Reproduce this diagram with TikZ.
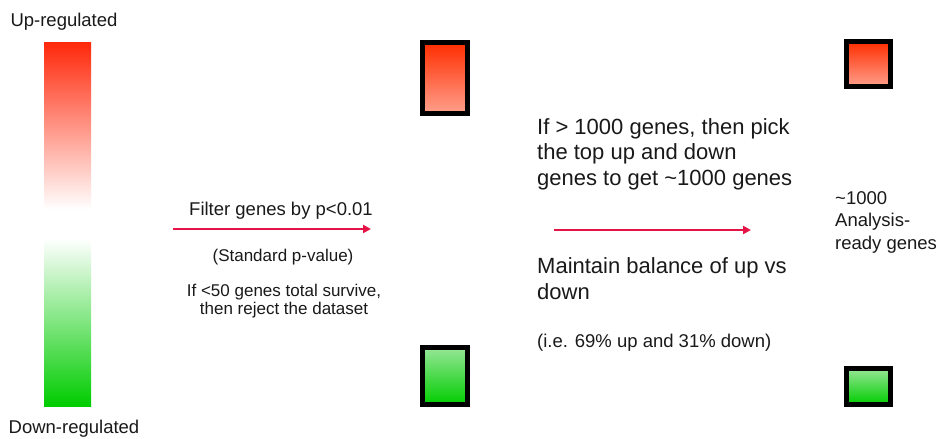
\documentclass[tikz,border=0pt]{standalone}
\usepackage{fontspec}
\setmainfont{Liberation Sans}
\usetikzlibrary{arrows.meta}
\definecolor{upred}{RGB}{255,40,10}
\definecolor{downgreen}{RGB}{0,204,0}
\definecolor{boxredtop}{RGB}{255,45,0}
\definecolor{boxredbot}{RGB}{255,160,140}
\definecolor{boxgreentop}{RGB}{150,230,150}
\definecolor{boxgreenbot}{RGB}{0,205,0}
\definecolor{arrowred}{RGB}{230,20,70}
\pgfdeclareverticalshading{updown}{100bp}{%
  color(0bp)=(downgreen); color(25bp)=(downgreen); color(48bp)=(white);
  color(52bp)=(white); color(75bp)=(upred); color(100bp)=(upred)}
\tikzset{
  redbox/.style={draw=black, line width=5pt, top color=boxredtop, bottom color=boxredbot},
  greenbox/.style={draw=black, line width=5pt, top color=boxgreentop, bottom color=boxgreenbot},
  flowarrow/.style={draw=arrowred, line width=2.2pt, -{Triangle[length=8pt,width=8pt]}},
  lbl/.style={inner sep=0pt, text=black!90},
}
\begin{document}
\begin{tikzpicture}[x=1pt,y=-1pt]
\useasboundingbox (0,0) rectangle (940,439);
% gradient bar
\shade[shading=updown] (44,42) rectangle (91,406);
\node[lbl, font=\fontsize{18.5}{21}\selectfont, anchor=base] (up) at (64,27) {Up-regulated};
\node[lbl, font=\fontsize{18.5}{21}\selectfont, anchor=base] (down) at (74,433) {Down-regulated};
% boxes
\path[redbox] (422.5,42.5) rectangle (467.5,113.5);
\node[inner sep=0pt, minimum width=50pt, minimum height=76pt] (b1) at (445,78) {};
\path[greenbox] (422.5,347.5) rectangle (467.5,404.5);
\node[inner sep=0pt, minimum width=50pt, minimum height=62pt] (b2) at (445,376) {};
\path[redbox] (846.5,41.5) rectangle (890.5,86.5);
\node[inner sep=0pt] (b3) at (868,64) {};
\path[greenbox] (846.5,368.5) rectangle (890.5,404.5);
\node[inner sep=0pt] (b4) at (868,386) {};
% arrows
\coordinate (a1s) at (173,229);
\coordinate (a1e) at (371,229);
\draw[flowarrow] (a1s) -- (a1e);
\coordinate (a2s) at (554,230);
\coordinate (a2e) at (751,230);
\draw[flowarrow] (a2s) -- (a2e);
% left texts
\node[lbl, font=\fontsize{18.5}{21}\selectfont, anchor=base] (filter) at (281,215) {Filter genes by p<0.01};
\node[lbl, font=\fontsize{17}{19}\selectfont, anchor=base] (std) at (283,261) {(Standard p-value)};
\node[lbl, font=\fontsize{17}{17.5}\selectfont, align=center, anchor=north] (reject) at (284,284) {If <50 genes total survive,\\ then reject the dataset};
% right texts
\node[lbl, font=\fontsize{22}{25.5}\selectfont, align=left, anchor=north west] (pick) at (537,118) {If > 1000 genes, then pick\\the top up and down\\genes to get \char`~1000 genes};
\node[lbl, font=\fontsize{22}{26}\selectfont, align=left, anchor=north west] (bal) at (537,257) {Maintain balance of up vs\\down};
\node[lbl, font=\fontsize{18.5}{21}\selectfont, anchor=base west] (ie) at (537,347) {(i.e. 69\% up and 31\% down)};
\node[lbl, font=\fontsize{18.5}{22.5}\selectfont, align=left, anchor=north west] (ready) at (835,191) {\char`~1000\\Analysis-\\ready genes};
\end{tikzpicture}
\end{document}
